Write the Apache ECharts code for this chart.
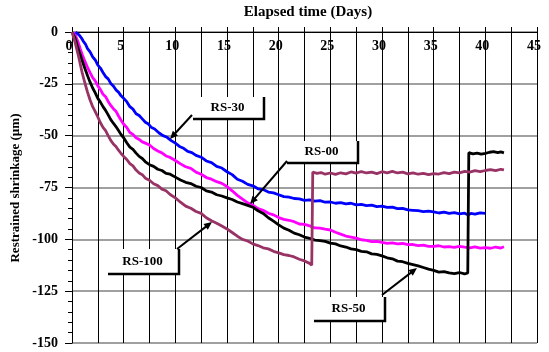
<!DOCTYPE html>
<html><head><meta charset="utf-8">
<script src="https://cdn.jsdelivr.net/npm/echarts@6/dist/echarts.min.js"></script>
<style>html,body{margin:0;padding:0;background:#fff}#c{width:549px;height:352px}</style>
</head><body><div id="c"></div>
<script>
var xTitle = 'Elapsed time (Days)';
var yTitle = 'Restrained shrinkage (µm)';
var seriesNames = ['RS-00','RS-30','RS-50','RS-100'];
var seriesColors = ['#FF00FF','#0000FF','#000000','#993366'];

var rs30 = [[0.35,0],[0.5,-0.3],[0.7,-1.5],[0.9,-2.8],[1.1,-4.5],[1.3,-5.8],[1.5,-8],[1.75,-9.6],[2,-12],[2.25,-13.5],[2.5,-16],[2.75,-17.4],[3,-19.5],[3.25,-21.5],[3.5,-22.6],[3.75,-24.8],[4,-26],[4.25,-27.9],[4.5,-29],[4.75,-30.8],[5,-32],[5.3,-33.6],[5.6,-36],[5.9,-37.2],[6.2,-39.4],[6.5,-40.3],[6.8,-41.9],[7.1,-43.5],[7.4,-44.4],[7.7,-46.1],[8,-46.8],[8.4,-48.6],[8.8,-50],[9.2,-50.8],[9.6,-52.4],[10,-53.6],[10.4,-55.2],[10.8,-56.1],[11.2,-57.6],[11.6,-58.2],[12,-59.5],[12.5,-60.4],[13,-62.2],[13.5,-63],[14,-64.8],[14.5,-65.6],[15,-67.4],[15.5,-68.8],[16,-71],[16.5,-72],[17,-73.5],[17.5,-74.2],[18,-75.6],[18.5,-76],[19,-77.2],[19.5,-77.6],[20,-78.5],[20.5,-79.4],[21,-79.6],[21.5,-80.3],[22,-80.5],[22.5,-81.2],[23,-81],[23.5,-81.6],[24,-81.3],[24.5,-82.1],[25,-82],[25.5,-82.6],[26,-82.3],[26.5,-82.9],[27,-82.6],[27.5,-83.4],[28,-83.1],[28.5,-83.7],[29,-83.5],[29.5,-84.2],[30,-84],[30.5,-84.6],[31,-84.5],[31.5,-85.2],[32,-85.1],[32.5,-85.8],[33,-86],[33.5,-86.2],[34,-86.6],[34.5,-86.4],[35,-86.8],[35.5,-87.3],[36,-86.9],[36.5,-87.5],[37,-87.1],[37.5,-87.7],[38,-87.4],[38.3,-88.2],[38.6,-87.5],[39,-87.8],[39.5,-87.2],[40,-87.5]];

var rs00 = [[0.2,0],[0.4,-2.5],[0.6,-5],[0.8,-8.2],[1,-11],[1.25,-14.2],[1.5,-17],[1.75,-19.6],[2,-22],[2.25,-23.6],[2.5,-26],[2.75,-27.8],[3,-30],[3.25,-31.2],[3.5,-33.5],[3.75,-35.4],[4,-37],[4.25,-38.2],[4.5,-40.5],[4.75,-42.6],[5,-44.5],[5.3,-46.1],[5.6,-48.5],[5.9,-49.4],[6.2,-51],[6.5,-51.8],[6.8,-53],[7.1,-53.6],[7.5,-54.5],[7.9,-56.2],[8.3,-57.4],[8.7,-58.3],[9.1,-59.8],[9.5,-60.5],[10,-62],[10.5,-63.6],[11,-65],[11.5,-65.8],[12,-67.6],[12.5,-68.6],[13,-70.2],[13.5,-71],[14,-72.2],[14.5,-73],[15,-74.5],[15.5,-76.6],[16,-78.8],[16.5,-80.6],[17,-82.4],[17.5,-83.5],[18,-85.2],[18.5,-86],[19,-87.4],[19.5,-88.2],[20,-89.5],[20.5,-90.4],[21,-90.8],[21.5,-91.5],[22,-92.6],[22.5,-92.8],[23,-93.5],[23.5,-94.5],[24,-94.6],[24.5,-95.1],[25,-95.5],[25.5,-96.6],[26,-97.5],[26.5,-98.4],[27,-98.9],[27.5,-99.4],[28,-100.2],[28.5,-100.5],[29,-101.1],[29.5,-101],[30,-101.5],[30.5,-102],[31,-101.7],[31.5,-102.2],[32,-102],[32.5,-102.6],[33,-102.5],[33.5,-103],[34,-102.8],[34.5,-103.4],[35,-103.4],[35.5,-103.1],[36,-103.7],[36.5,-103.5],[37,-103.9],[37.5,-103.4],[38,-103.8],[38.5,-104.1],[39,-103.6],[39.5,-104.2],[40,-104],[40.5,-104.3],[41,-103.7],[41.5,-104.2],[41.8,-103.6]];

var rs50 = [[0,0],[0.15,-1.5],[0.3,-3],[0.45,-5.5],[0.6,-8],[0.8,-11],[1,-14],[1.25,-17.6],[1.5,-21],[1.75,-24.2],[2,-27],[2.25,-29.4],[2.5,-32],[2.75,-33.8],[3,-36],[3.25,-37.8],[3.5,-40],[3.75,-42.3],[4,-44],[4.25,-45.6],[4.5,-47.5],[4.75,-49.5],[5,-51],[5.3,-53.4],[5.6,-55.5],[5.9,-56.6],[6.2,-58.4],[6.5,-60],[6.8,-61],[7.1,-62.6],[7.5,-64],[7.9,-64.8],[8.3,-66.2],[8.7,-66.8],[9.1,-68.2],[9.5,-68.6],[10,-70],[10.5,-71.4],[11,-72.5],[11.5,-73.1],[12,-74.4],[12.5,-75],[13,-76.6],[13.5,-77.2],[14,-78.5],[14.5,-79.1],[15,-80],[15.5,-80.8],[16,-82],[16.5,-82.8],[17,-83.6],[17.5,-84.5],[18,-86.2],[18.5,-87.5],[19,-89.6],[19.5,-91.2],[20,-93],[20.5,-94.6],[21,-95.6],[21.5,-97],[22,-97.8],[22.5,-98.9],[23,-99.5],[23.5,-100.4],[24,-100.6],[24.5,-101],[25,-101.8],[25.5,-102.2],[26,-103.2],[26.5,-103.7],[27,-104.6],[27.5,-105],[28,-105.8],[28.5,-106],[29,-107],[29.5,-107.3],[30,-108],[30.5,-108.9],[31,-109.4],[31.5,-110.5],[32,-110.8],[32.5,-111.6],[33,-112.2],[33.5,-112.8],[34,-113.6],[34.5,-114.4],[35,-115],[35.5,-115.8],[36,-115.6],[36.5,-116.2],[37,-116.5],[37.5,-116],[38,-116.7],[38.3,-116.2],[38.4,-58.2],[38.8,-58.8],[39.2,-58.4],[39.6,-58.9],[40,-58.5],[40.4,-58],[40.8,-57.7],[41.2,-58.2],[41.5,-57.8],[41.8,-58.3]];

var rs100 = [[0,0],[0.15,-2.5],[0.3,-5],[0.45,-8],[0.6,-11],[0.8,-15.5],[1,-20],[1.25,-24.6],[1.5,-29],[1.75,-32.8],[2,-36],[2.25,-38.4],[2.5,-41],[2.75,-43.8],[3,-46],[3.25,-47.6],[3.5,-50],[3.75,-52.3],[4,-54],[4.25,-55.2],[4.5,-57],[4.75,-58.6],[5,-60],[5.3,-61.5],[5.6,-63.5],[5.9,-64.6],[6.2,-66.6],[6.5,-68],[6.8,-68.8],[7.1,-70.5],[7.5,-71.5],[7.9,-73.2],[8.3,-74.1],[8.7,-75.8],[9.1,-76.6],[9.5,-78.4],[10,-80],[10.5,-82.1],[11,-84],[11.5,-85],[12,-86.6],[12.5,-87.5],[13,-89.6],[13.5,-91],[14,-92.2],[14.5,-93.6],[15,-95],[15.5,-96.7],[16,-98.5],[16.5,-100],[17,-100.8],[17.5,-102.2],[18,-103],[18.5,-104.1],[19,-104.6],[19.5,-105.8],[20,-106.5],[20.5,-107.4],[21,-107.8],[21.5,-108.5],[22,-109.6],[22.5,-110.4],[23,-111.6],[23.2,-112.5],[23.3,-67.5],[23.7,-68.2],[24.1,-67.8],[24.5,-68.6],[25,-68],[25.5,-68.7],[26,-67.9],[26.5,-68.4],[27,-67.5],[27.5,-68.1],[28,-67.3],[28.5,-68],[29,-67.6],[29.5,-68.3],[30,-67.4],[30.5,-67.9],[31,-67.2],[31.5,-68],[32,-67.6],[32.5,-68.4],[33,-67.9],[33.5,-68.6],[34,-68.2],[34.5,-68.8],[35,-68.3],[35.5,-68.5],[36,-67.8],[36.5,-68.3],[37,-67.6],[37.5,-67.9],[38,-67.2],[38.5,-67.6],[39,-66.9],[39.5,-67.3],[40,-66.8],[40.5,-66.4],[41,-66.9],[41.5,-66.2],[41.8,-66.5]];

var seriesData = [rs00, rs30, rs50, rs100];

var FONT = "'Liberation Serif', 'DejaVu Serif', serif";

// callout boxes: [label, boxLeft, boxTop, boxRight, boxBottom, arrowFromX, arrowFromY, arrowToX, arrowToY]
var callouts = [
  ['RS-30', 193, 97, 264, 119, 192, 115, 170, 139],
  ['RS-00', 287, 141, 358, 163, 287, 161, 250, 204],
  ['RS-100', 108, 249, 179, 274, 177, 249, 212, 222],
  ['RS-50', 314, 297, 385, 321, 382, 295, 417, 268]
];

var graphics = [{
  type: 'text', x: 308, y: 12,
  style: {text: xTitle, font: "bold 15px " + FONT, fill: '#000', textAlign: 'center', textVerticalAlign: 'middle'}
}, {
  type: 'text', x: 16, y: 188, rotation: Math.PI / 2,
  style: {text: yTitle, font: "bold 13px " + FONT, fill: '#000', textAlign: 'center', textVerticalAlign: 'middle'}
}];
callouts.forEach(function (c) {
  var l = c[1], t = c[2], r = c[3], b = c[4];
  graphics.push({type: 'rect', shape: {x: l, y: t, width: r - l, height: b - t}, style: {fill: '#fff'}, z: 100});
  graphics.push({type: 'polyline', shape: {points: [[l, b], [r, b], [r, t]]}, style: {stroke: '#000', lineWidth: 2.5, fill: null}, z: 101});
  graphics.push({type: 'text', x: (l + r) / 2 - 1, y: (t + b) / 2, style: {text: c[0], font: "bold 13px " + FONT, fill: '#000', textAlign: 'center', textVerticalAlign: 'middle'}, z: 102});
  var sx = c[5], sy = c[6], tx = c[7], ty = c[8];
  var dx = tx - sx, dy = ty - sy, L = Math.sqrt(dx * dx + dy * dy);
  var ux = dx / L, uy = dy / L, nx = -uy, ny = ux;
  var hl = 8, hw = 3.5;
  graphics.push({type: 'line', shape: {x1: sx, y1: sy, x2: tx - ux * hl * 0.8, y2: ty - uy * hl * 0.8}, style: {stroke: '#000', lineWidth: 2}, z: 101});
  graphics.push({type: 'polygon', shape: {points: [[tx, ty], [tx - ux * hl + nx * hw, ty - uy * hl + ny * hw], [tx - ux * hl - nx * hw, ty - uy * hl - ny * hw]]}, style: {fill: '#000'}, z: 101});
});

var chart = echarts.init(document.getElementById('c'), null, {renderer: 'canvas'});
chart.setOption({
  animation: false,
  grid: {left: 72, right: 12, top: 32, bottom: 9},
  xAxis: {
    type: 'value', position: 'top', min: 0, max: 45, interval: 2.5,
    axisLine: {show: true, onZero: false, lineStyle: {color: '#000', width: 1}},
    axisTick: {show: true, inside: false, length: 5, lineStyle: {color: '#000'}},
    axisLabel: {
      inside: true, margin: 7, color: '#000',
      fontFamily: FONT, fontWeight: 'bold', fontSize: 14,
      padding: [0, 6, 0, 0],
      formatter: function (v) { return (Math.abs(v % 5) < 1e-9) ? String(v) : ''; }
    },
    splitLine: {show: true, lineStyle: {color: '#000', width: 1}}
  },
  yAxis: {
    type: 'value', min: -150, max: 0, interval: 25,
    axisLine: {show: true, onZero: false, lineStyle: {color: '#000', width: 1}},
    axisTick: {show: true, inside: false, length: 7, lineStyle: {color: '#000'}},
    minorTick: {show: true, splitNumber: 5, length: 4, lineStyle: {color: '#000'}},
    axisLabel: {margin: 14, color: '#000', fontFamily: FONT, fontWeight: 'bold', fontSize: 14},
    splitLine: {show: true, lineStyle: {color: '#808080', width: 1.5}}
  },
  series: seriesNames.map(function (n, i) {
    return {
      name: n, type: 'line', data: seriesData[i], showSymbol: false, symbol: 'none',
      lineStyle: {color: seriesColors[i], width: 2.8}, z: 10 + i
    };
  }),
  graphic: graphics
});
</script></body></html>
